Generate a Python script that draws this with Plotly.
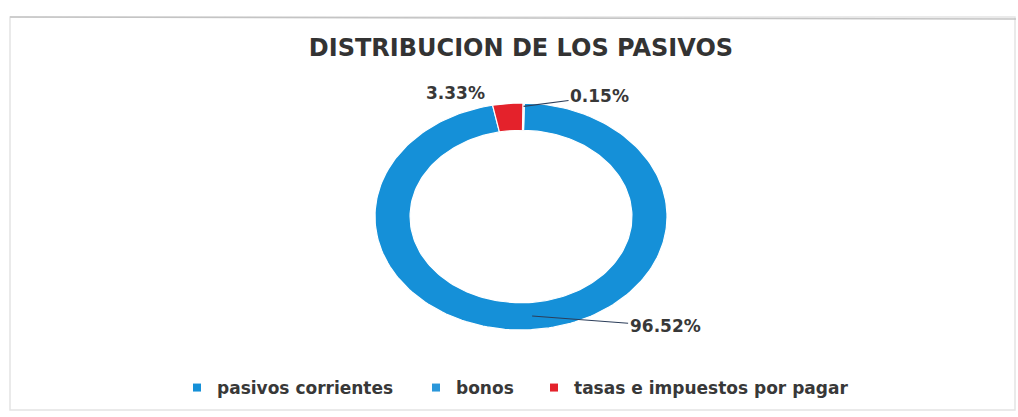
import numpy as np
import plotly.graph_objects as go

# Liability breakdown (percent of total)
categories = ["pasivos corrientes", "bonos", "tasas e impuestos por pagar"]
values = [96.52, 0.15, 3.33]
colors = ["#1590D8", "#2A97DA", "#E4222B"]
title_text = "DISTRIBUCION DE LOS PASIVOS"

W, H = 1018, 417
CX, CY = 521, 216.5          # ring centre in pixels
RX, RY = 146, 113.5          # outer semi-axes in pixels
HOLE = 0.76                  # inner radius as fraction of outer
START = 1.3                  # degrees clockwise from 12 o'clock

total = sum(values)
sweep = [v / total * 360.0 for v in values]

# First slice runs clockwise from START, the others stack counter-clockwise
spans = [(START, START + sweep[0])]
edge = START
for s in sweep[1:]:
    spans.append((edge - s, edge))
    edge -= s


def ring_xy(a0, a1, r_out=1.0, r_in=HOLE, n=200):
    t = np.radians(np.linspace(a0, a1, n))
    xo, yo = r_out * np.sin(t), r_out * np.cos(t)
    xi, yi = r_in * np.sin(t[::-1]), r_in * np.cos(t[::-1])
    return np.r_[xo, xi, xo[:1]], np.r_[yo, yi, yo[:1]]


fig = go.Figure()
for name, col, (a0, a1) in zip(categories, colors, spans):
    x, y = ring_xy(a0, a1)
    fig.add_trace(go.Scatter(
        x=x, y=y, mode="lines", fill="toself", fillcolor=col,
        line=dict(color="white", width=1.2), hoverinfo="text",
        text=name, showlegend=False))

# Legend entries, one legend box per category
legend_font = dict(family="DejaVu Sans", size=17, color="#383838", weight="bold")
legend_x = [177, 416, 534]
for i, (name, col) in enumerate(zip(categories, colors)):
    key = "legend" if i == 0 else f"legend{i + 1}"
    fig.add_trace(go.Scatter(
        x=[None], y=[None], mode="markers", name=name,
        marker=dict(symbol="square", size=8, color=col),
        legend=key, showlegend=True))
    fig.layout[key] = dict(
        orientation="h", x=legend_x[i] / W, xanchor="left",
        y=1 - 388 / H, yanchor="middle", font=legend_font,
        bgcolor="rgba(0,0,0,0)", itemwidth=30)

# Percentage labels attached to each slice
label_font = dict(family="DejaVu Sans", size=17, color="#383838", weight="bold")
label_cfg = [
    dict(r=(1 + HOLE) / 2, ax=133, ay=10, line=True),
    dict(r=0.97, ax=76, ay=-10, line=True),
    dict(r=1.0, ax=-52, ay=-10.5, line=False),
]
for v, (a0, a1), cfg in zip(values, spans, label_cfg):
    mid = np.radians((a0 + a1) / 2)
    fig.add_annotation(
        x=cfg["r"] * np.sin(mid), y=cfg["r"] * np.cos(mid),
        text=f"{v / total * 100:.2f}%", font=label_font,
        showarrow=True, arrowhead=0, arrowwidth=1.2,
        arrowcolor="#2C3E5A" if cfg["line"] else "rgba(0,0,0,0)",
        ax=cfg["ax"], ay=cfg["ay"], standoff=0)

# Chart frame
fig.add_shape(type="rect", xref="paper", yref="paper",
              x0=10 / W, x1=1015 / W, y0=1 - 410 / H, y1=1 - 17 / H,
              line=dict(color="#E4E4E4", width=1.5), layer="below")
fig.add_shape(type="line", xref="paper", yref="paper",
              x0=10 / W, x1=1 - 2 / W, y0=1 - 17 / H, y1=1 - 19 / H,
              line=dict(color="#C4C4C4", width=1.5))

fig.update_layout(
    width=W, height=H, margin=dict(l=0, r=0, t=0, b=0),
    paper_bgcolor="white", plot_bgcolor="white",
    title=dict(text=title_text, x=CX / W, xanchor="center",
               y=1 - 47.5 / H, yanchor="middle",
               font=dict(family="DejaVu Sans", size=24, color="#333333",
                         weight="bold")),
    xaxis=dict(range=[-CX / RX, (W - CX) / RX], visible=False, fixedrange=True),
    yaxis=dict(range=[-(H - CY) / RY, CY / RY], visible=False, fixedrange=True),
)

fig.write_html("out.html")
